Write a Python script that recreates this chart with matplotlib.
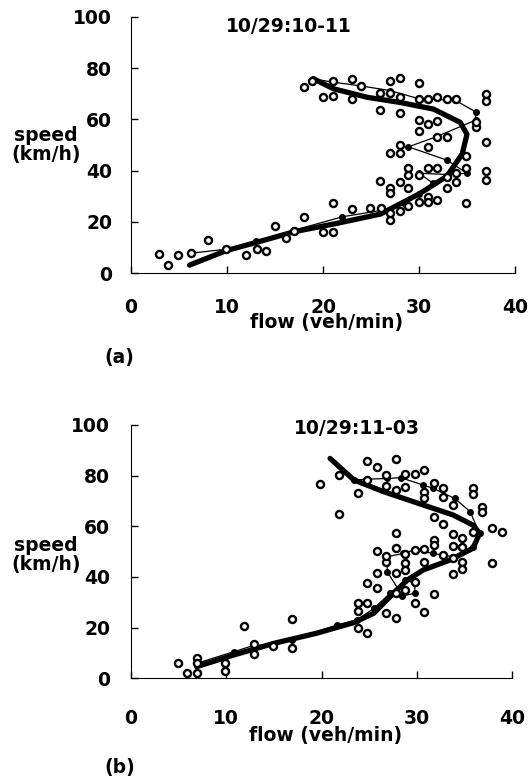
import matplotlib
matplotlib.use("Agg")
import matplotlib.pyplot as plt

plt.rcParams['font.family'] = ['DejaVu Sans']
plt.rcParams['font.weight'] = 'bold'

# ---- panel (a) 10/29:10-11 ----
a_flow = [2.9, 3.9, 4.9, 6.2, 8.0, 9.9, 12.0, 13.1, 14.1, 15.0, 16.1, 17.0, 18.0,
          20.0, 21.0, 21.0, 23.0, 24.9, 26.0, 27.0, 25.9, 27.0, 27.0, 28.0, 28.0,
          28.9, 28.9, 28.9, 28.9, 30.0, 30.0, 30.9, 30.9, 30.9, 31.9, 31.9, 32.9,
          32.9, 33.9, 33.9, 34.9, 34.9, 34.9, 37.0, 37.0, 37.0, 35.9, 35.9, 37.0,
          37.0, 32.9, 31.9, 30.9, 30.0, 30.0, 30.9, 31.9, 28.0, 28.0, 27.0, 25.9,
          28.0, 28.0, 30.0, 30.9, 31.9, 32.9, 33.9, 30.0, 28.0, 27.0, 27.0, 25.9,
          23.0, 24.0, 23.0, 21.0, 21.0, 20.0, 18.9, 18.0, 27.0]
a_speed = [7.4, 3.2, 7.1, 7.8, 13.0, 9.4, 7.1, 9.4, 8.7, 18.4, 13.6, 16.5, 22.1,
           16.0, 16.2, 27.5, 25.1, 25.6, 25.6, 20.8, 36.0, 33.1, 31.2, 35.7, 24.4,
           33.1, 26.2, 40.9, 38.3, 27.7, 38.3, 40.9, 29.9, 27.7, 28.6, 40.9, 37.7,
           33.1, 35.7, 39.2, 40.9, 27.5, 45.7, 40.0, 36.4, 51.0, 57.1, 59.1, 69.9,
           67.3, 53.2, 53.2, 49.4, 55.6, 59.7, 58.2, 59.5, 46.8, 50.0, 46.8, 63.6,
           62.3, 68.8, 67.8, 67.8, 68.8, 67.8, 67.8, 74.0, 76.2, 74.9, 70.4, 70.4,
           75.6, 73.0, 67.8, 74.9, 69.2, 68.8, 74.8, 72.5, 23.4]

a_traj_flow = [6.2, 9.9, 13.0, 17.0, 22.0, 26.0, 28.5, 30.0, 31.5, 30.0, 33.0,
               35.0, 32.9, 28.9, 31.8, 35.9, 35.9, 33.8, 30.0, 27.0, 24.0, 21.0, 19.0]
a_traj_speed = [7.8, 9.4, 12.5, 16.8, 22.0, 24.5, 27.0, 31.0, 35.0, 39.0, 38.5,
                39.0, 44.1, 49.3, 53.2, 59.7, 62.9, 67.4, 68.0, 71.2, 73.0, 74.5, 75.8]

a_fit_flow = [6.1, 9.9, 13.5, 17.0, 21.5, 26.0, 30.0, 32.9, 34.5, 35.0, 34.3,
              31.5, 28.0, 24.6, 21.1, 19.0]
a_fit_speed = [3.2, 8.8, 12.5, 16.2, 19.5, 23.1, 30.9, 37.8, 46.5, 54.2, 58.8,
               64.0, 66.6, 68.6, 71.9, 75.8]

# ---- panel (b) 10/29:11-03 ----
b_flow = [4.9, 5.9, 6.9, 6.9, 6.9, 9.9, 9.9, 11.9, 12.9, 12.9, 14.9, 16.9, 16.9,
          19.8, 21.8, 21.8, 23.8, 24.8, 23.8, 24.8, 23.8, 24.8, 25.8, 25.8, 25.8,
          26.8, 26.8, 26.8, 27.8, 27.8, 27.8, 27.8, 27.8, 28.8, 28.8, 28.8, 28.8,
          29.8, 29.8, 29.8, 30.8, 30.8, 30.8, 31.8, 31.8, 31.8, 31.8, 32.8, 32.8,
          33.8, 33.8, 33.8, 34.8, 34.8, 34.8, 34.8, 37.9, 38.9, 37.9, 36.8, 36.8,
          35.9, 35.9, 32.8, 32.8, 33.8, 31.8, 30.8, 30.8, 29.8, 30.8, 28.8, 28.8,
          27.8, 27.8, 26.8, 26.8, 25.8, 24.8, 24.8, 23.8, 35.9, 33.8]
b_speed = [5.9, 2.0, 7.9, 5.9, 2.0, 5.9, 2.9, 20.8, 13.4, 9.6, 12.8, 23.4, 11.8,
           76.7, 80.3, 64.7, 20.0, 17.8, 29.6, 29.6, 26.7, 37.5, 35.5, 41.7, 50.3,
           25.7, 45.8, 48.2, 23.7, 57.2, 51.3, 41.4, 33.6, 45.4, 42.8, 34.9, 48.9,
           50.7, 29.6, 38.2, 26.3, 46.1, 50.9, 33.2, 54.6, 52.6, 63.8, 60.9, 48.7,
           57.0, 52.4, 41.2, 52.0, 46.1, 43.0, 55.3, 59.2, 57.9, 45.4, 67.8, 65.8,
           75.0, 72.6, 75.0, 71.7, 68.4, 77.0, 73.7, 71.1, 80.7, 82.2, 80.7, 75.7,
           86.4, 74.3, 80.3, 75.9, 83.6, 85.8, 78.3, 73.3, 57.9, 47.4]

b_traj_flow = [6.9, 10.8, 12.9, 15.0, 16.9, 21.6, 23.7, 25.5, 27.2, 28.8, 29.8,
               29.8, 28.5, 26.9, 26.9, 28.6, 29.8, 31.7, 33.8, 35.9, 36.6, 35.6,
               34.0, 31.7, 30.7, 28.3, 26.9, 24.8, 23.4]
b_traj_speed = [5.9, 10.5, 13.0, 13.2, 15.0, 21.0, 23.0, 27.6, 33.6, 38.8, 37.5,
                33.6, 32.5, 42.1, 48.0, 49.3, 50.7, 49.3, 48.0, 52.0, 57.2, 65.8,
                71.0, 75.0, 76.3, 79.2, 78.9, 78.6, 78.3]

b_fit_flow = [6.9, 10.8, 15.0, 19.5, 23.4, 25.5, 27.2, 29.0, 30.7, 33.5, 35.9,
              36.6, 35.9, 33.8, 30.7, 26.5, 23.4, 20.9]
b_fit_speed = [4.6, 9.2, 13.8, 17.8, 22.0, 25.7, 32.2, 38.8, 42.8, 46.7, 51.3,
               57.2, 60.5, 64.5, 68.4, 73.7, 78.3, 86.8]

ticks_x = [0, 10, 20, 30, 40]
ticks_y = [0, 20, 40, 60, 80, 100]

W, H = 529, 782
fig = plt.figure(figsize=(W / 100, H / 100), dpi=100)
FS = 13.5

# rect, title, title pos (axes frac), tag, tag y (px), speed label y (px),
# xlabel y (axes frac), x tick pad, y tick pad
panels = [
    ([131 / W, 1 - 273.3 / H, 384 / W, 256.6 / H], '10/29:10-11', (0.41, 0.962),
     '(a)', 357, 145, -0.192, 17.5, 13.5,
     a_flow, a_speed, a_traj_flow, a_traj_speed, a_fit_flow, a_fit_speed),
    ([131 / W, 1 - 678.3 / H, 381 / W, 253.3 / H], '10/29:11-03', (0.593, 0.988),
     '(b)', 768, 555, -0.226, 22, 15,
     b_flow, b_speed, b_traj_flow, b_traj_speed, b_fit_flow, b_fit_speed),
]

for (rect, title, tpos, tag, tag_y, lab_y, xl_y, xpad, ypad,
     fx, sy, tx, ty, ffx, ffy) in panels:
    ax = fig.add_axes(rect)
    ax.plot(tx, ty, '-', color='black', lw=0.9, marker='o', ms=4,
            mfc='black', mec='black')
    ax.plot(ffx, ffy, '-', color='black', lw=3.8, solid_capstyle='round',
            solid_joinstyle='round')
    ax.scatter(fx, sy, s=26, facecolors='white', edgecolors='black',
               linewidths=1.7, zorder=3)
    ax.set_xlim(0, 40)
    ax.set_ylim(0, 100)
    ax.set_xticks(ticks_x)
    ax.set_yticks(ticks_y)
    ax.tick_params(direction='in', length=5, width=1, labelsize=FS)
    ax.tick_params(axis='x', pad=xpad)
    ax.tick_params(axis='y', pad=ypad)
    for lab in ax.get_xticklabels() + ax.get_yticklabels():
        lab.set_fontweight('bold')
    for side in ['top', 'right']:
        ax.spines[side].set_visible(False)
    ax.text(tpos[0], tpos[1], title, transform=ax.transAxes, ha='center',
            va='center', fontsize=FS, fontweight='bold')
    ax.text(0.51, xl_y, 'flow (veh/min)', transform=ax.transAxes, ha='center',
            va='center', fontsize=FS, fontweight='bold')
    fig.text(46 / W, 1 - lab_y / H, 'speed\n(km/h)', ha='center', va='center',
             fontsize=FS, fontweight='bold', linespacing=0.95)
    fig.text(104 / W, 1 - tag_y / H, tag, ha='left', va='center',
             fontsize=FS, fontweight='bold')

fig.savefig('out.png', dpi=100)
